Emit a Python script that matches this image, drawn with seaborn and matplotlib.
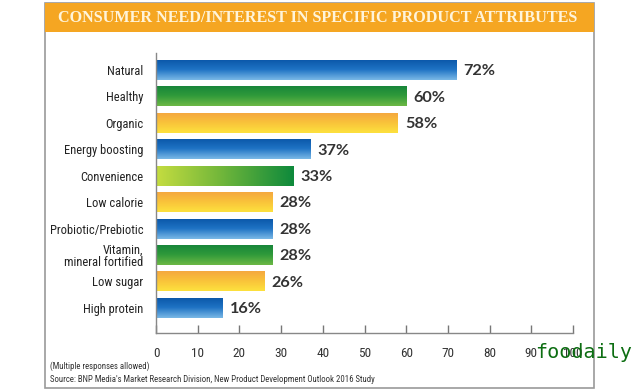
import numpy as np
import pandas as pd
import matplotlib
matplotlib.use("Agg")
import matplotlib.pyplot as plt
import seaborn as sns
from matplotlib.patches import Rectangle
from matplotlib.colors import LinearSegmentedColormap
from matplotlib import font_manager as fm

categories = ["Natural", "Healthy", "Organic", "Energy boosting", "Convenience",
              "Low calorie", "Probiotic/Prebiotic", "Vitamin,\nmineral fortified",
              "Low sugar", "High protein"]
values = [72, 60, 58, 37, 33, 28, 28, 28, 26, 16]
color_groups = ["blue", "green", "yellow", "blue", "lime", "yellow", "blue", "green", "yellow", "blue"]
xticks = [0, 10, 20, 30, 40, 50, 60, 70, 80, 90, 100]

title = "CONSUMER NEED/INTEREST IN SPECIFIC PRODUCT ATTRIBUTES"
note1 = "(Multiple responses allowed)"
note2 = "Source: BNP Media's Market Research Division, New Product Development Outlook 2016 Study"

gradients = {
    "blue": (["#0a56a8", "#1f73c4", "#7ab8e6"], "v"),
    "green": (["#16843a", "#2f9a3a", "#6cb845"], "v"),
    "yellow": (["#f4a640", "#f9c23a", "#fde13e"], "v"),
    "lime": (["#c4dc40", "#6cb43a", "#0f8a3c"], "h"),
}

sns.set_theme(style="white")

installed = {f.name for f in fm.fontManager.ttflist}
cond_candidates = ["Roboto Condensed", "Noto Sans Condensed", "Open Sans Condensed",
                   "Liberation Sans Narrow", "DejaVu Sans Condensed"]
cond = [c for c in cond_candidates if c in installed]
narrow = (cond[:1] if cond else []) + ["Liberation Sans", "DejaVu Sans"]
plt.rcParams["font.family"] = narrow
has_cond = bool(cond)

df = pd.DataFrame({"cat": categories, "val": values})

fig = plt.figure(figsize=(6.4, 3.91), dpi=100)
W, H = 640, 391

fig.patches.append(Rectangle((45 / W, 1 - 388 / H), (594 - 45) / W, (388 - 3) / H,
                             transform=fig.transFigure, fill=False, edgecolor="#9a9a9a",
                             linewidth=1.2, zorder=0))
fig.patches.append(Rectangle((45 / W, 1 - 32 / H), (594 - 45) / W, (32 - 3) / H,
                             transform=fig.transFigure, facecolor="#f5a622",
                             edgecolor="none", zorder=1))
fig.text(317.5 / W, 1 - 18 / H, title, ha="center", va="center",
         color="#fff4da", fontsize=11.6, fontweight="bold",
         family=["Liberation Serif", "DejaVu Serif"])

ax = fig.add_axes([156 / W, 1 - 333 / H, (573 - 156) / W, (333 - 53) / H])
sns.barplot(data=df, x="val", y="cat", orient="h", ax=ax, width=0.76,
            color="#1f73c4", saturation=1, edgecolor="none")

for patch, grp in zip(ax.patches, color_groups):
    cols, direction = gradients[grp]
    cmap = LinearSegmentedColormap.from_list(grp, cols)
    x0, y0 = patch.get_x(), patch.get_y()
    w, h = patch.get_width(), patch.get_height()
    if direction == "v":
        grad = np.linspace(0, 1, 64).reshape(-1, 1)
    else:
        grad = np.linspace(0, 1, 64).reshape(1, -1)
    im = ax.imshow(grad, cmap=cmap, aspect="auto", extent=(x0, x0 + w, y0 + h, y0),
                   origin="upper", zorder=patch.get_zorder() + 0.1, interpolation="bilinear")
    im.set_clip_path(patch)
ax.set_xlim(0, 100)
ax.set_ylim(9.95, -0.64)

for i, v in enumerate(values):
    ax.text(v + 1.7, i + 0.05, f"{v}%", va="center", ha="left", fontsize=11.7,
            fontweight="bold", color="#333333", family=["Lato", "DejaVu Sans"])

ax.set_xlabel("")
ax.set_ylabel("")
ax.set_xticks(xticks)
ax.set_xticklabels([str(t) for t in xticks], fontsize=9.5 if has_cond else 9, color="#333333")
ax.tick_params(axis="x", direction="in", length=6, width=1, color="#777777", pad=10, bottom=True)
ax.tick_params(axis="y", length=0, pad=9, labelsize=9 if has_cond else 8.8, labelcolor="#222222")
for lbl in ax.get_yticklabels():
    lbl.set_multialignment("right")
    lbl.set_linespacing(0.9)
for s in ["top", "right"]:
    ax.spines[s].set_visible(False)
for s in ["left", "bottom"]:
    ax.spines[s].set_color("#888888")
    ax.spines[s].set_linewidth(1)
ax.set_facecolor("none")

fs_note = 6.3 if has_cond else 5.6
fig.text(50 / W, 1 - 366 / H, note1, ha="left", va="center", fontsize=fs_note, color="#333333")
fig.text(50 / W, 1 - 379 / H, note2, ha="left", va="center", fontsize=fs_note, color="#333333")

fig.text(535 / W, 1 - 353 / H, "foodaily", ha="left", va="center", fontsize=14.5,
         color="#0d6e12", family=["DejaVu Sans Mono"])

fig.savefig("out.png", dpi=100)
